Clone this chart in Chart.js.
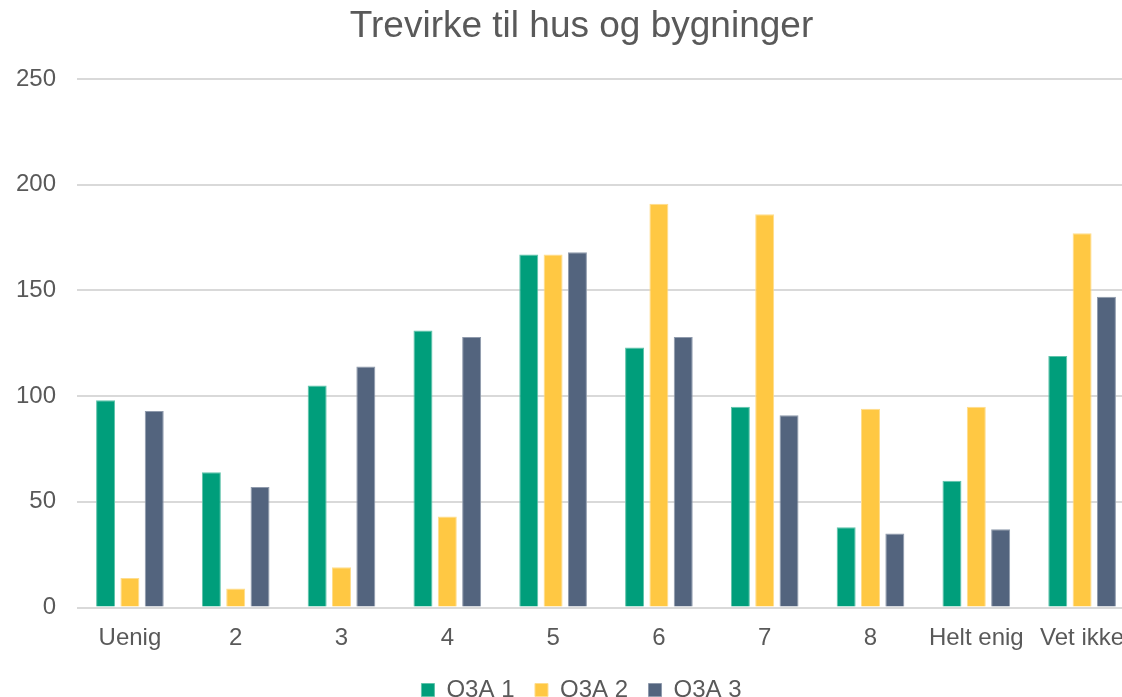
<!DOCTYPE html>
<html>
<head>
<meta charset="utf-8">
<title>Trevirke til hus og bygninger</title>
<script src="https://cdn.jsdelivr.net/npm/chart.js@4/dist/chart.umd.min.js"></script>
<style>
  html, body { margin: 0; padding: 0; background: #fff; overflow: hidden; }
  #wrap { width: 1146px; height: 712px; position: relative; }
</style>
</head>
<body>
<div id="wrap"><canvas id="chart"></canvas></div>
<script>
// values
var categories = ["Uenig", "2", "3", "4", "5", "6", "7", "8", "Helt enig", "Vet ikke"];
var seriesNames = ["Q3A 1", "Q3A 2", "Q3A 3"];
var q3a1 = [98, 64, 105, 131, 167, 123, 95, 38, 60, 119];
var q3a2 = [14, 9, 19, 43, 167, 191, 186, 94, 95, 177];
var q3a3 = [93, 57, 114, 128, 168, 128, 91, 35, 37, 147];
var yTicks = [0, 50, 100, 150, 200, 250];

(function () {
  var FONT = "'Liberation Sans', Arial, sans-serif";
  var TEXT = "#595959";
  var GRID = "#D9D9D9";

  function ds(label, data, fill, edge) {
    return {
      label: label,
      data: data,
      backgroundColor: fill,
      borderColor: edge,
      borderWidth: 1,
      categoryPercentage: 0.69,
      barPercentage: 0.78
    };
  }

  new Chart(document.getElementById("chart").getContext("2d"), {
    type: "bar",
    data: {
      labels: categories,
      datasets: [
        ds(seriesNames[0], q3a1, "#009E7B", "#5FC3AA"),
        ds(seriesNames[1], q3a2, "#FFC843", "#FFDD8C"),
        ds(seriesNames[2], q3a3, "#53647E", "#8F9AAC")
      ]
    },
    options: {
      responsive: true,
      maintainAspectRatio: false,
      animation: false,
      layout: { padding: { left: 17, right: 0, top: 0, bottom: 0 } },
      scales: {
        x: {
          grid: { display: false, drawTicks: false },
          border: { display: false },
          ticks: { color: TEXT, font: { family: FONT, size: 24 }, padding: 16, maxRotation: 0, autoSkip: false },
          afterFit: function (scale) { scale.height = 50; }
        },
        y: {
          min: 0,
          max: 250,
          grid: { color: GRID, lineWidth: 2, drawTicks: false },
          border: { display: false },
          afterBuildTicks: function (scale) {
            scale.ticks = yTicks.map(function (v) { return { value: v }; });
          },
          ticks: { color: TEXT, font: { family: FONT, size: 24 }, padding: 21 },
          afterFit: function (scale) { scale.width = 60; }
        },
        // empty strip on the right: the chart's outer area is wider than the plot
        spacer: {
          type: "linear",
          position: "right",
          grid: { display: false, drawTicks: false },
          border: { display: false },
          ticks: { display: false },
          afterFit: function (scale) { scale.width = 11; }
        }
      },
      plugins: {
        title: {
          display: true,
          text: "Trevirke til hus og bygninger",
          color: TEXT,
          font: { family: FONT, size: 37, weight: "normal" },
          padding: { top: 5, bottom: 29.6 }
        },
        legend: {
          position: "bottom",
          labels: {
            color: TEXT,
            font: { family: FONT, size: 24 },
            boxWidth: 13,
            boxHeight: 13,
            padding: 20.5
          }
        },
        tooltip: { enabled: false }
      }
    }
  });
})();
</script>
</body>
</html>
